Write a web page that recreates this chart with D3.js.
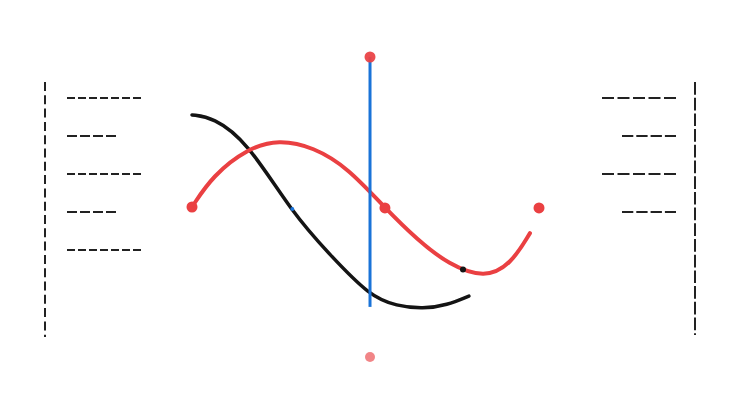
<!DOCTYPE html>
<html>
<head>
<meta charset="utf-8">
<script src="https://cdn.jsdelivr.net/npm/d3@7"></script>
<style>
  html, body { margin: 0; padding: 0; background: #fff; }
</style>
</head>
<body>
<div id="chart"></div>
<script>
// curves, in chart units (x 0..10, y 0..10)
var redCurve = [
  [0, 5.0], [0.6, 6.05], [1.6, 6.95], [2.5, 7.25], [3.5, 7.0], [4.5, 6.3],
  [5.56, 4.97], [6.5, 3.9], [7.4, 3.08], [8.44, 2.62], [9.2, 3.1], [9.74, 4.13]
];
var blackCurve = [
  [0, 8.07], [0.6, 7.99], [1.58, 7.2], [2.89, 4.8], [3.98, 3.4], [5.13, 2.02],
  [5.9, 1.7], [6.66, 1.6], [7.35, 1.73], [7.98, 2.03]
];
var redDots = [[0, 5.0], [5.56, 4.97], [10, 4.97]];
var cursorX = 5.13;
var cursorTop = 10, cursorBottom = 1.67, ghostY = 0;
var blueMark = [2.89, 4.93];
var blackMark = [7.81, 2.92];

// placeholder label rows (relative length) on each side
var leftRows = [1, 0.67, 1, 0.67, 1];
var rightRows = [1, 0.74, 1, 0.74];

var width = 740, height = 416;

var x = d3.scaleLinear().domain([0, 10]).range([192, 539]);
var y = d3.scaleLinear().domain([0, 10]).range([357, 57]);
var rowY = d3.scaleLinear().domain([0, 4]).range([98, 250]);

var svg = d3.select("#chart").append("svg")
  .attr("width", width)
  .attr("height", height);

// left side
svg.append("line")
  .attr("x1", 45).attr("x2", 45).attr("y1", 82).attr("y2", 337)
  .attr("stroke", "#222").attr("stroke-width", 2)
  .attr("stroke-dasharray", "9,4.3");

svg.selectAll(".lrow")
  .data(leftRows)
  .enter().append("line")
  .attr("class", "lrow")
  .attr("x1", 67)
  .attr("x2", function(d) { return d == 1 ? 141 : 117; })
  .attr("y1", function(d, i) { return rowY(i); })
  .attr("y2", function(d, i) { return rowY(i); })
  .attr("stroke", "#222").attr("stroke-width", 2)
  .attr("stroke-dasharray", function(d) { return d == 1 ? "8,3" : "10,3"; });

// right side
svg.append("line")
  .attr("x1", 695).attr("x2", 695).attr("y1", 82).attr("y2", 335)
  .attr("stroke", "#222").attr("stroke-width", 2)
  .attr("stroke-dasharray", "12.7,3");

svg.selectAll(".rrow")
  .data(rightRows)
  .enter().append("line")
  .attr("class", "rrow")
  .attr("x1", function(d) { return d == 1 ? 602 : 622; })
  .attr("x2", 676)
  .attr("y1", function(d, i) { return rowY(i); })
  .attr("y2", function(d, i) { return rowY(i); })
  .attr("stroke", "#222").attr("stroke-width", 2)
  .attr("stroke-dasharray", function(d) { return d == 1 ? "12,3.5" : "11.3,3"; });

// smooth the traced points
var line = d3.line()
  .x(function(d) { return x(d[0]); })
  .y(function(d) { return y(d[1]); })
  .curve(d3.curveBasis);

svg.append("path")
  .datum(blackCurve)
  .attr("d", line)
  .attr("fill", "none")
  .attr("stroke", "#141414")
  .attr("stroke-width", 3.5)
  .attr("stroke-linecap", "round");

svg.append("path")
  .datum(redCurve)
  .attr("d", line)
  .attr("fill", "none")
  .attr("stroke", "#ea4042")
  .attr("stroke-width", 4)
  .attr("stroke-linecap", "round");

// cursor
svg.append("line")
  .attr("x1", x(cursorX)).attr("x2", x(cursorX))
  .attr("y1", y(cursorTop)).attr("y2", y(cursorBottom))
  .attr("stroke", "#1a73d8").attr("stroke-width", 3);

svg.append("circle")
  .attr("cx", x(cursorX)).attr("cy", y(cursorTop)).attr("r", 5.5)
  .attr("fill", "#ea4347").attr("opacity", 0.95);

svg.append("circle")
  .attr("cx", x(cursorX)).attr("cy", y(ghostY)).attr("r", 5)
  .attr("fill", "#ea4347").attr("opacity", 0.65);

svg.selectAll(".rdot")
  .data(redDots)
  .enter().append("circle")
  .attr("class", "rdot")
  .attr("cx", function(d) { return x(d[0]); })
  .attr("cy", function(d) { return y(d[1]); })
  .attr("r", 5.5)
  .attr("fill", "#ea4042");

svg.append("circle")
  .attr("cx", x(blueMark[0])).attr("cy", y(blueMark[1])).attr("r", 2)
  .attr("fill", "#1a73d8");

svg.append("circle")
  .attr("cx", x(blackMark[0])).attr("cy", y(blackMark[1])).attr("r", 3)
  .attr("fill", "#141414");
</script>
</body>
</html>
